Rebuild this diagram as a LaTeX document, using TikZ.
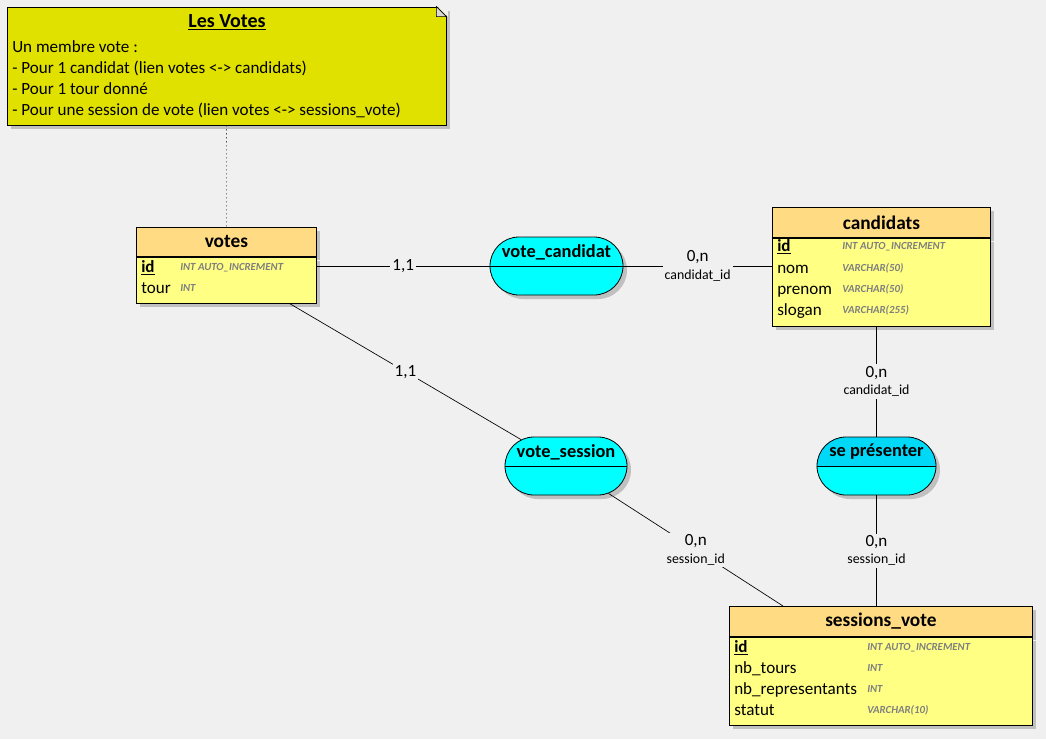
\documentclass[tikz,border=0pt]{standalone}
\usepackage{fontspec}
\setmainfont{Carlito}
\usetikzlibrary{shapes.misc, positioning, calc, shadows}
\definecolor{bg}{HTML}{F0F0F0}
\definecolor{noteyellow}{HTML}{E1E100}
\definecolor{headyellow}{HTML}{FFDB84}
\definecolor{bodyyellow}{HTML}{FFFF84}
\definecolor{assoccyan}{HTML}{00FFFF}
\definecolor{assocdark}{HTML}{00D8F8}
\definecolor{shadowgray}{HTML}{C0C0C0}
\definecolor{foldgray}{HTML}{D8D8D8}
\definecolor{typegray}{HTML}{7F7F7F}
\tikzstyle{boxshadow} = [drop shadow={shadow xshift=3pt, shadow yshift=-3pt, fill=shadowgray, opacity=1}]
\tikzstyle{notebox} = [rectangle, draw=black, line width=0.6pt, fill=noteyellow, minimum width=329.25pt, minimum height=88.5pt, inner sep=0pt, boxshadow]
\tikzstyle{notetext} = [inner sep=0pt, align=left, font=\fontsize{12.8}{15.75}\selectfont]
\tikzstyle{entityhead} = [rectangle, draw=black, line width=0.6pt, fill=headyellow, inner sep=0pt, anchor=north west, font=\fontsize{14.5}{16}\selectfont\bfseries, boxshadow]
\tikzstyle{entitybody} = [rectangle, draw=black, line width=0.6pt, fill=bodyyellow, inner sep=0pt, boxshadow]
\tikzstyle{attr} = [anchor=west, inner sep=0pt, text height=9pt, text depth=2.5pt, font=\fontsize{12.8}{14}\selectfont]
\tikzstyle{atype} = [anchor=west, inner sep=0pt, text height=5.8pt, text depth=1.6pt, font=\fontsize{8.1}{9}\selectfont\bfseries\itshape, text=typegray]
\tikzstyle{assoc} = [rounded rectangle, draw=black, line width=0.6pt, fill=assoccyan, minimum height=43.5pt, inner sep=0pt, boxshadow]
\tikzstyle{assoctitle} = [inner sep=0pt, font=\fontsize{13.8}{15}\selectfont\bfseries]
\tikzstyle{card} = [fill=bg, inner sep=1.5pt, align=center, font=\fontsize{12.8}{13}\selectfont]
\tikzstyle{link} = [black, line width=0.5pt]
\newcommand{\rolename}[1]{{\fontsize{10.4}{13}\selectfont #1}}

\begin{document}
\begin{tikzpicture}[x=0.75pt, y=-0.75pt]
\fill[bg] (0,0) rectangle (1046,739);
\useasboundingbox (0,0) rectangle (1046,739);

\node (note) [notebox] at (226.5,66) {};
\fill[bg] ($(note.north east)+(-10,-1)$) -- ++(11.5,0) -- ++(0,11.5) -- cycle;
\filldraw[fill=foldgray, draw=black, line width=0.5pt] ($(note.north east)+(-10,0)$) -- ++(10,10) -- ++(-10,0) -- cycle;
\node (note title) [notetext, font=\fontsize{15}{16}\selectfont\bfseries] at (227,22) {\underline{Les Votes}};
\node (note text) [notetext, anchor=west] at (12,79.5) {Un membre vote :\\- Pour 1 candidat (lien votes <-> candidats)\\- Pour 1 tour donné\\- Pour une session de vote (lien votes <-> sessions\_vote)};

\node (votes head) [entityhead, minimum width=135pt, minimum height=21.75pt] at (136,227) {votes};
\node (votes body) [entitybody, below=0pt of votes head, minimum width=135pt, minimum height=34.5pt] {};
\node (votes id) [attr] at (141,268) {\underline{\textbf{id}}};
\node (votes id type) [atype] at (180,268) {INT AUTO\_INCREMENT};
\node (votes tour) [attr] at (141,289) {tour};
\node (votes tour type) [atype] at (180,289) {INT};

\node (candidats head) [entityhead, minimum width=163.5pt, minimum height=22.5pt] at (772,207) {candidats};
\node (candidats body) [entitybody, below=0pt of candidats head, minimum width=163.5pt, minimum height=66pt] {};
\node (candidats id) [attr] at (777,247) {\underline{\textbf{id}}};
\node (candidats id type) [atype] at (842,247) {INT AUTO\_INCREMENT};
\node (candidats nom) [attr] at (777,269) {nom};
\node (candidats nom type) [atype] at (842,269) {VARCHAR(50)};
\node (candidats prenom) [attr] at (777,290) {prenom};
\node (candidats prenom type) [atype] at (842,290) {VARCHAR(50)};
\node (candidats slogan) [attr] at (777,311) {slogan};
\node (candidats slogan type) [atype] at (842,311) {VARCHAR(255)};

\node (sessions head) [entityhead, minimum width=227.25pt, minimum height=22.5pt] at (729,606) {sessions\_vote};
\node (sessions body) [entitybody, below=0pt of sessions head, minimum width=227.25pt, minimum height=66pt] {};
\node (sessions id) [attr] at (734,648) {\underline{\textbf{id}}};
\node (sessions id type) [atype] at (867,648) {INT AUTO\_INCREMENT};
\node (sessions tours) [attr] at (734,669) {nb\_tours};
\node (sessions tours type) [atype] at (867,669) {INT};
\node (sessions repr) [attr] at (734,690) {nb\_representants};
\node (sessions repr type) [atype] at (867,690) {INT};
\node (sessions statut) [attr] at (734,711) {statut};
\node (sessions statut type) [atype] at (867,711) {VARCHAR(10)};

\node (vote candidat) [assoc, minimum width=99.75pt] at (556.5,266) {};
\draw [line width=0.6pt] (vote candidat.west) -- (vote candidat.east);
\node (vote candidat title) [assoctitle] at ([yshift=10.5pt]vote candidat.center) {vote\_candidat};

\node (vote session) [assoc, minimum width=91.5pt] at (566,466) {};
\draw [line width=0.6pt] (vote session.west) -- (vote session.east);
\node (vote session title) [assoctitle] at ([yshift=10.5pt]vote session.center) {vote\_session};

\node (se presenter) [assoc, minimum width=89.25pt, path picture={\fill[assocdark] (path picture bounding box.north west) rectangle (path picture bounding box.east);}] at (876.5,466) {};
\draw [line width=0.6pt] (se presenter.west) -- (se presenter.east);
\node (se presenter title) [assoctitle] at ([yshift=10.5pt]se presenter.center) {se présenter};

\coordinate (votes foot) at ($(votes body.south west)!0.85!(votes body.south east)$);
\coordinate (sessions top) at ($(sessions head.north west)+(54,0)$);

\draw [dash pattern=on 0.75pt off 2.25pt] (note.south) -- (votes head.north);
\draw [link] (votes body.east |- vote candidat.west) -- node[card] {1,1} (vote candidat.west);
\draw [link] (vote candidat.east) -- node[card] {0,n\\\rolename{candidat\_id}} (vote candidat.east -| candidats body.west);
\draw [link] (votes foot) -- node[card] {1,1} (vote session);
\draw [link] (vote session) -- node[card] {0,n\\\rolename{session\_id}} (sessions top);
\draw [link] (se presenter) -- node[card] {0,n\\\rolename{candidat\_id}} (se presenter |- candidats body.south);
\draw [link] (se presenter) -- node[card] {0,n\\\rolename{session\_id}} (se presenter |- sessions head.north);

\end{tikzpicture}
\end{document}
